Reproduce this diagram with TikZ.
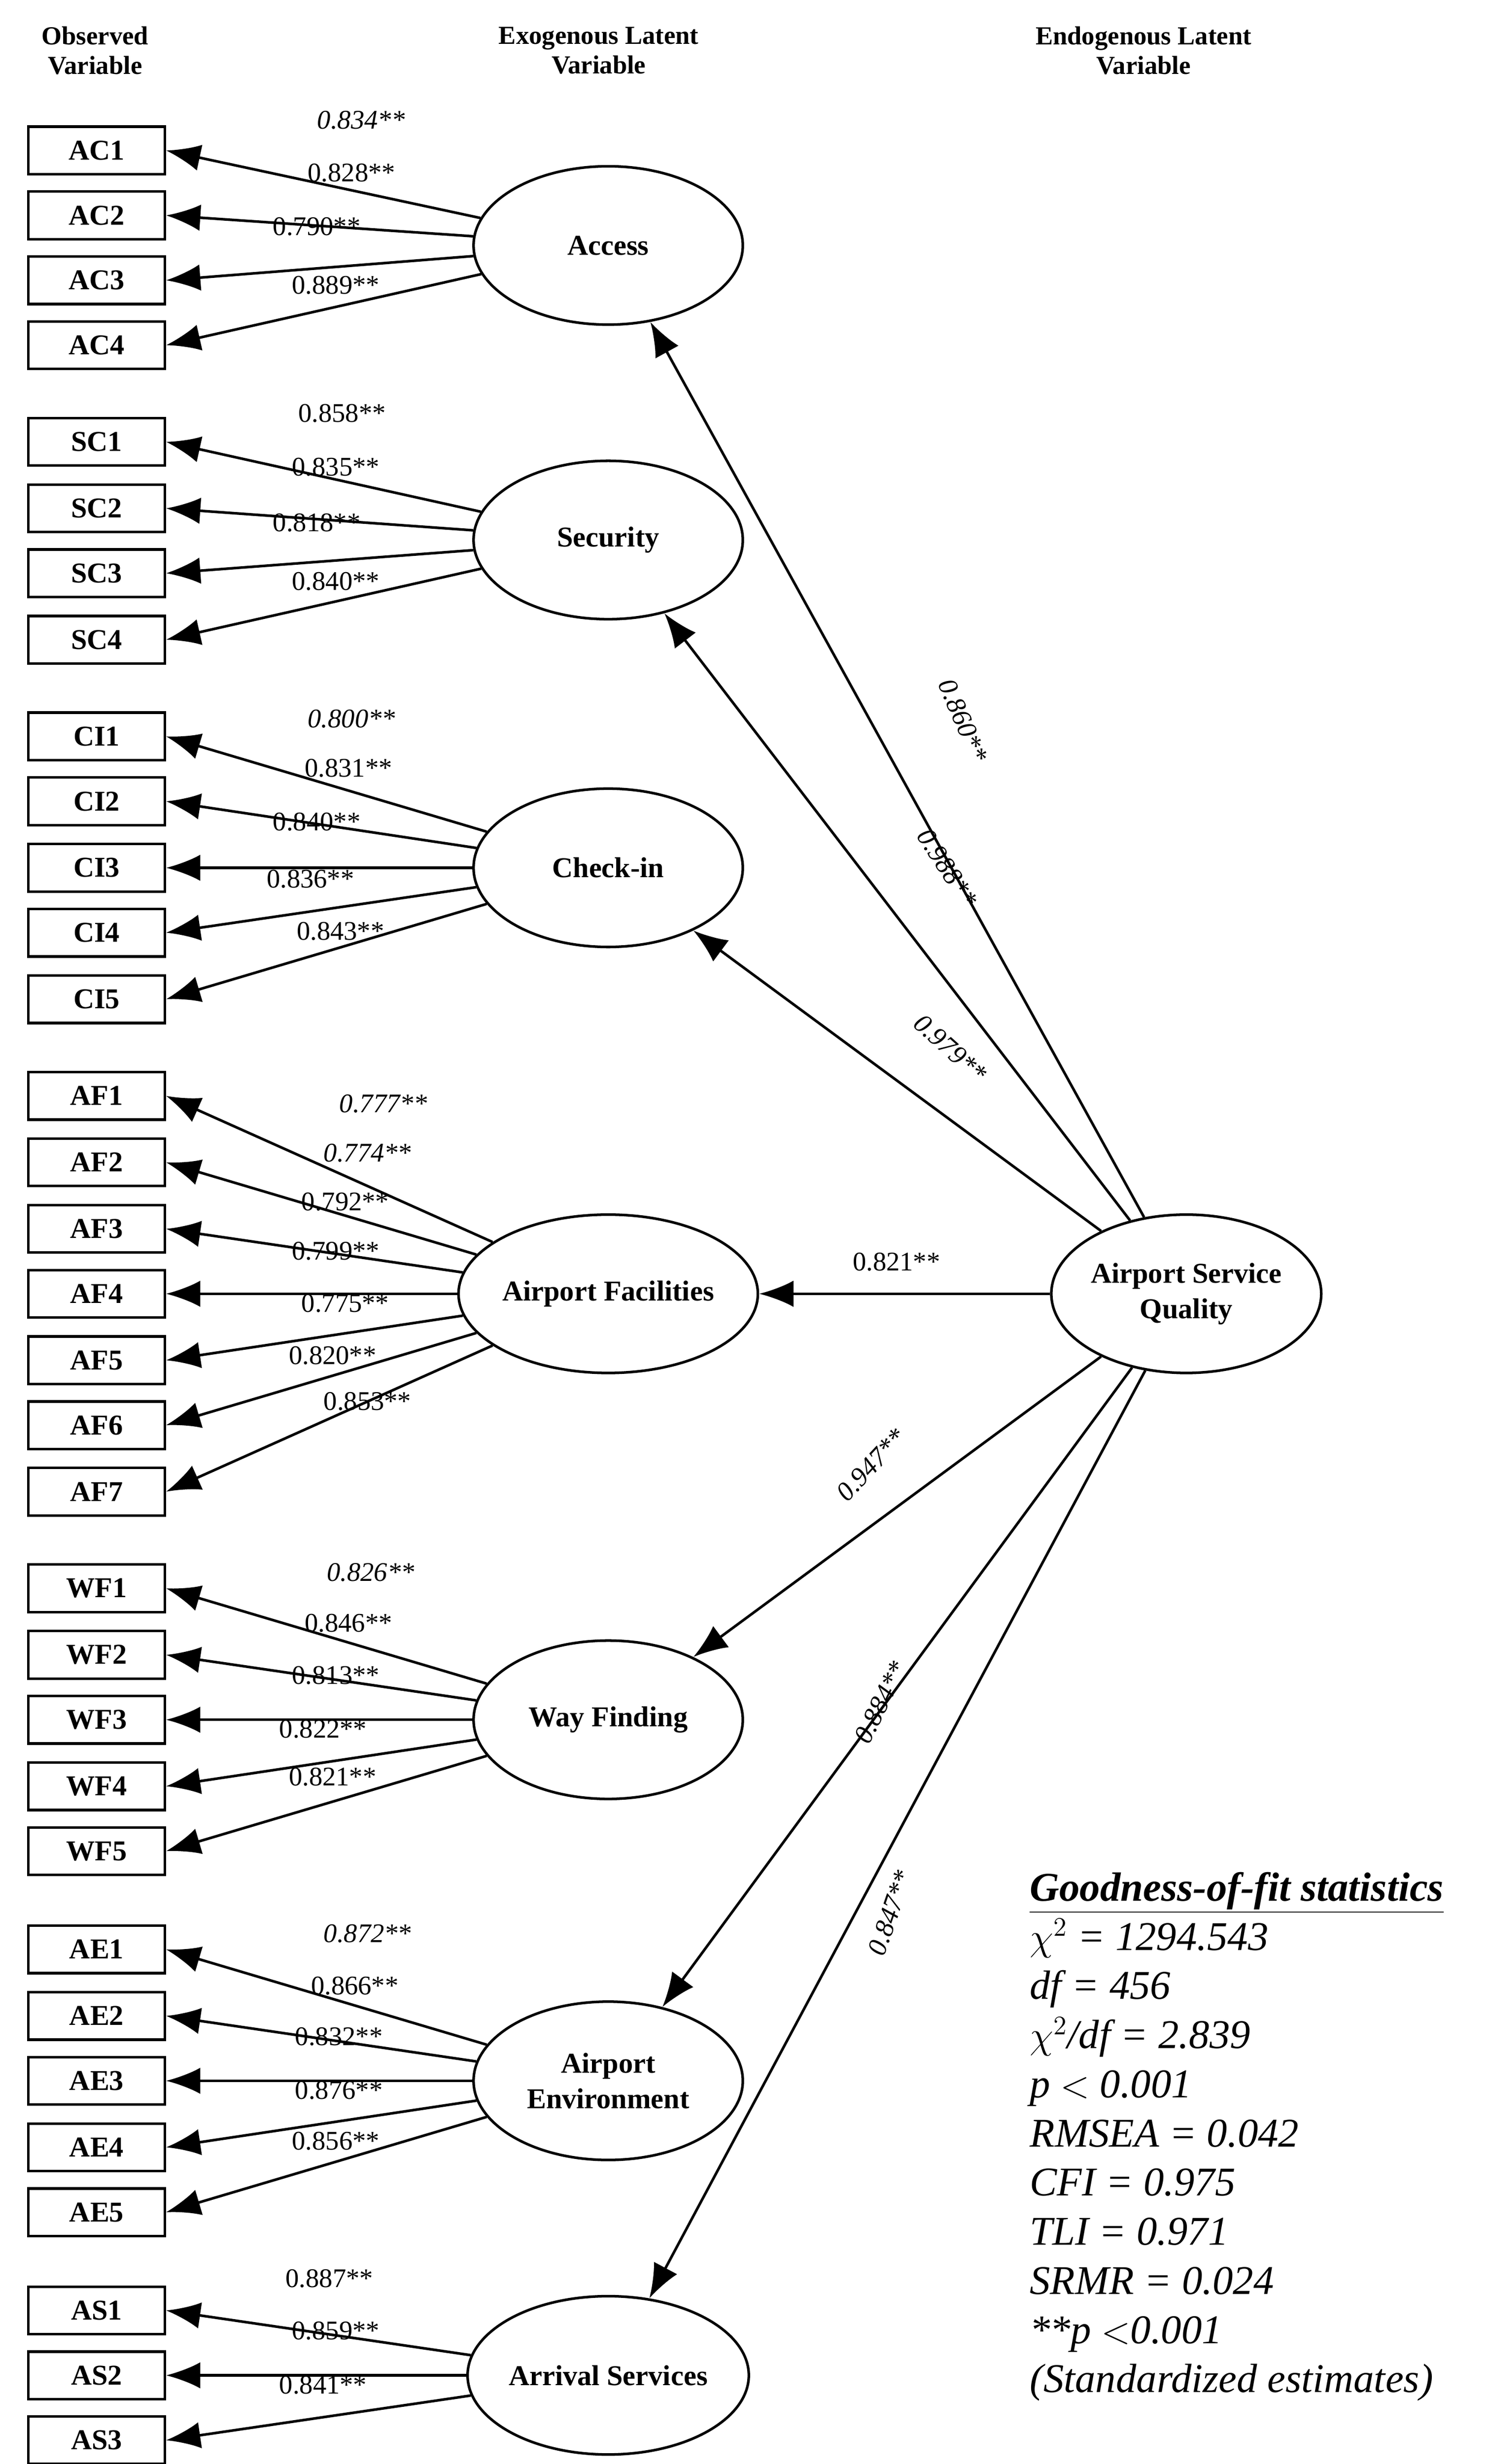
\documentclass[tikz,border=0pt]{standalone}
\usepackage{fontspec}
\setmainfont{Liberation Serif}
\usetikzlibrary{shapes.geometric,arrows.meta}
\begin{document}
\begin{tikzpicture}[x=0.03cm,y=-0.03cm,
  box/.style={draw,line width=1.4pt,minimum width=2.58cm,minimum height=0.9cm,inner sep=0pt,font=\fontsize{15.5}{18}\selectfont\bfseries},
  lat/.style={draw,ellipse,line width=1.4pt,minimum width=5.1cm,minimum height=3cm,inner sep=0pt,align=center,font=\fontsize{15.5}{19}\selectfont\bfseries},
  arr/.style={line width=1.4pt,-{Latex[length=0.65cm,width=0.5cm]}},
  lab/.style={font=\fontsize{14.5}{17}\selectfont,inner sep=1pt},
  ilab/.style={font=\fontsize{14.5}{17}\selectfont\itshape,inner sep=1pt},
  hdr/.style={font=\fontsize{14}{16}\selectfont\bfseries,align=center}]
\useasboundingbox (0,0) rectangle (940,1556);
\node[hdr] (h1) at (60,32) {Observed\\Variable};
\node[hdr] (h2) at (378,32) {Exogenous Latent\\Variable};
\node[hdr] (h3) at (722,32) {Endogenous Latent\\Variable};
% latent
\node[lat] (AC) at (384,155) {Access};
\node[lat] (SC) at (384,341) {Security};
\node[lat] (CI) at (384,548) {Check-in};
\node[lat] (AF) at (384,817) {Airport Facilities};
\node[lat] (WF) at (384,1086) {Way Finding};
\node[lat] (AE) at (384,1314) {Airport\\Environment};
\node[lat] (AS) at (384,1500) {Arrival Services};
\node[lat,minimum width=4.95cm] (Q) at (749,817) {Airport Service\\Quality};
% observed
\foreach \n/\y/\lx/\ly/\v/\s in {
 AC1/95/228/84/0.834/ilab, AC2/136/222/117/0.828/lab, AC3/177/200/151/0.790/lab, AC4/218/212/188/0.889/lab}
 {\node[box] (\n) at (61,\y) {\n}; \draw[arr] (AC) -- (\n.east); \node[\s] at (\lx,\ly-8) {\v**};}
\foreach \n/\y/\lx/\ly/\v/\s in {
 SC1/279/216/269/0.858/lab, SC2/321/212/303/0.835/lab, SC3/362/200/338/0.818/lab, SC4/404/212/375/0.840/lab}
 {\node[box] (\n) at (61,\y) {\n}; \draw[arr] (SC) -- (\n.east); \node[\s] at (\lx,\ly-8) {\v**};}
\foreach \n/\y/\lx/\ly/\v/\s in {
 CI1/465/222/462/0.800/ilab, CI2/506/220/493/0.831/lab, CI3/548/200/527/0.840/lab, CI4/589/196/563/0.836/lab, CI5/631/215/596/0.843/lab}
 {\node[box] (\n) at (61,\y) {\n}; \draw[arr] (CI) -- (\n.east); \node[\s] at (\lx,\ly-8) {\v**};}
\foreach \n/\y/\lx/\ly/\v/\s in {
 AF1/692/242/705/0.777/ilab, AF2/734/232/736/0.774/ilab, AF3/776/218/767/0.792/lab, AF4/817/212/798/0.799/lab, AF5/859/218/831/0.775/lab, AF6/900/210/864/0.820/lab, AF7/942/232/893/0.853/lab}
 {\node[box] (\n) at (61,\y) {\n}; \draw[arr] (AF) -- (\n.east); \node[\s] at (\lx,\ly-8) {\v**};}
\foreach \n/\y/\lx/\ly/\v/\s in {
 WF1/1003/234/1001/0.826/ilab, WF2/1045/220/1033/0.846/lab, WF3/1086/212/1066/0.813/lab, WF4/1128/204/1100/0.822/lab, WF5/1169/210/1130/0.821/lab}
 {\node[box] (\n) at (61,\y) {\n}; \draw[arr] (WF) -- (\n.east); \node[\s] at (\lx,\ly-8) {\v**};}
\foreach \n/\y/\lx/\ly/\v/\s in {
 AE1/1231/232/1229/0.872/ilab, AE2/1273/224/1262/0.866/lab, AE3/1314/214/1294/0.832/lab, AE4/1356/214/1328/0.876/lab, AE5/1397/212/1360/0.856/lab}
 {\node[box] (\n) at (61,\y) {\n}; \draw[arr] (AE) -- (\n.east); \node[\s] at (\lx,\ly-8) {\v**};}
\foreach \n/\y/\lx/\ly/\v/\s in {
 AS1/1459/208/1447/0.887/lab, AS2/1500/212/1480/0.859/lab, AS3/1541/204/1514/0.841/lab}
 {\node[box] (\n) at (61,\y) {\n}; \draw[arr] (AS) -- (\n.east); \node[\s] at (\lx,\ly-8) {\v**};}
% structural
\draw[arr] (Q) -- (AC);
\draw[arr] (Q) -- (SC);
\draw[arr] (Q) -- (CI);
\draw[arr] (Q) -- (AF);
\draw[arr] (Q) -- (WF);
\draw[arr] (Q) -- (AE);
\draw[arr] (Q) -- (AS);
\node[ilab,rotate=-67] (l1) at (608,455) {0.860**};
\node[ilab,rotate=-57] (l2) at (598,548) {0.988**};
\node[ilab,rotate=-42] (l3) at (600,662) {0.979**};
\node[lab] (l4) at (566,797) {0.821**};
\node[ilab,rotate=47] (l5) at (550,925) {0.947**};
\node[ilab,rotate=64] (l6) at (556,1075) {0.884**};
\node[ilab,rotate=71] (l7) at (562,1208) {0.847**};
% GoF
\node[anchor=north west,align=left,font=\fontsize{22}{26.5}\selectfont\itshape,inner sep=0pt] (gof) at (650,1182)
 {\textbf{\underline{Goodness-of-fit statistics}}\\
 $\chi^{2}$ = 1294.543\\ df = 456\\ $\chi^{2}$/df = 2.839\\ p $<$ 0.001\\ RMSEA = 0.042\\ CFI = 0.975\\ TLI = 0.971\\ SRMR = 0.024\\ **p $<$0.001\\ (Standardized estimates)};
\end{tikzpicture}
\end{document}
